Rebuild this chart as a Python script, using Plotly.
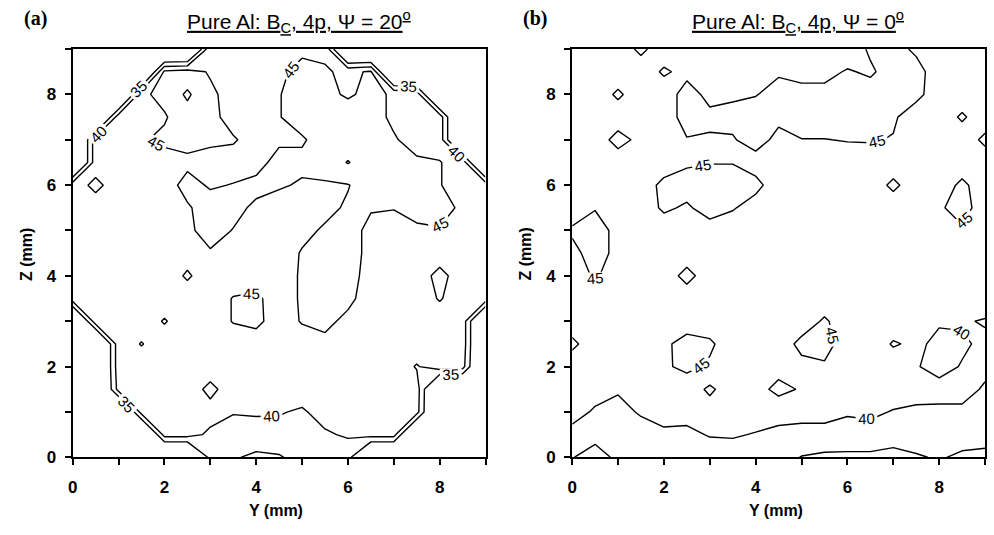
import plotly.graph_objects as go

# ---------------- data ----------------
x_mm = [0, 0.5, 1, 1.5, 2, 2.5, 3, 3.5, 4, 4.5, 5, 5.5, 6, 6.5, 7, 7.5, 8, 8.5, 9]
y_mm = [0, 0.5, 1, 1.5, 2, 2.5, 3, 3.5, 4, 4.5, 5, 5.5, 6, 6.5, 7, 7.5, 8, 8.5, 9]

contour_levels = [35, 50, 5]   # start, end, step

tick_vals = [0, 2, 4, 6, 8]
tick_text = ['0', '2', '4', '6', '8']

# panel (a): rows listed from Z = 9 (top) down to Z = 0; 20 = outside specimen
z_a_rows = [
    [20, 20, 20, 20, 20, 20, 44, 43, 43, 43, 44, 44, 20, 20, 20, 20, 20, 20, 20],
    [20, 20, 20, 20, 46, 47, 44.5, 43, 43, 44, 46.5, 45.5, 44, 45.5, 20, 20, 20, 20, 20],
    [20, 20, 20, 44, 46.5, 50.8, 46, 43, 43, 44.8, 47, 46, 44.5, 46, 44.5, 43, 20, 20, 20],
    [20, 20, 43, 43, 44.5, 48, 46.5, 43, 43, 44.8, 47, 47, 47, 47, 44, 43, 43, 20, 20],
    [20, 43, 43, 44.5, 46, 46.5, 46, 45.5, 43, 44, 44.5, 47, 47, 46.5, 45.5, 43, 43, 20, 20],
    [20, 43, 43, 43, 43, 44, 43, 43, 43, 47, 46, 47, 50.3, 47, 46.5, 45.8, 45.2, 43, 20],
    [43, 46, 43, 43, 43, 46.5, 44.5, 45.2, 46.5, 45.5, 44.5, 44.5, 44.8, 47, 47, 46.5, 45.2, 43, 43],
    [43, 43, 43, 43, 43, 44.5, 47, 46.5, 44, 43, 43, 44, 45.5, 45.3, 45.2, 46, 46, 44.5, 43],
    [43, 43, 43, 43, 43, 44, 47, 44.8, 43, 43, 44, 45.5, 46.5, 44, 43, 44.5, 44.8, 43, 43],
    [43, 43, 43, 43, 43, 43.5, 44.5, 43, 43, 43, 45.3, 46, 46.5, 44, 43, 43, 43, 43, 43],
    [43, 43, 43, 43, 43, 45.5, 43, 43, 43, 43, 45.5, 47, 47, 43, 43, 43, 46.2, 43, 43],
    [43, 43, 43, 43, 43, 43, 43, 45.2, 45.8, 43, 45.5, 47, 46, 43, 43, 43, 45.3, 43, 43],
    [20, 43, 43, 43, 45.3, 43, 43, 45.2, 46, 43, 45.3, 46, 44, 43, 43, 43, 43, 43, 20],
    [20, 20, 43, 45.2, 43, 43, 43, 43, 43, 43, 43, 44, 43, 43, 43, 43, 43, 43, 20],
    [20, 20, 43, 43, 43, 43, 43, 43, 43, 43, 43, 43, 43, 43, 43, 39.6, 43, 42, 20],
    [20, 20, 42, 43, 43, 43, 38.5, 43, 43, 43, 42, 43, 43, 43, 43, 42.5, 20, 20, 20],
    [20, 20, 20, 42, 42.5, 43, 42, 40.2, 40.5, 40.3, 39.5, 41.5, 42.5, 43, 43, 42, 20, 20, 20],
    [20, 20, 20, 20, 42, 42, 39, 38.5, 38, 38.5, 38.5, 39.5, 40.5, 42, 42, 20, 20, 20, 20],
    [20, 20, 20, 20, 20, 20, 37, 35.5, 34, 34.5, 37, 37, 37.5, 20, 20, 20, 20, 20, 20],
]

# panel (b): rows listed from Z = 9 (top) down to Z = 0
z_b_rows = [
    [43, 43, 43, 45.8, 43, 43, 43, 43, 43, 43, 43, 43, 43, 45.5, 46, 44.5, 43, 43, 43],
    [43, 43, 43, 43, 45.5, 44, 43, 43, 43, 44.5, 44, 44, 45.3, 44.5, 46.5, 46, 43.5, 43, 43],
    [43, 43, 45.6, 43, 43, 46.5, 44, 44.5, 44.8, 46.5, 46, 46, 46, 46.5, 46, 46, 43, 43, 43],
    [43, 43, 43, 43, 43, 46.5, 45.8, 46, 47, 45.8, 47, 47, 47, 47, 45.5, 43, 43, 45.5, 43],
    [43, 43, 46.3, 44, 43, 44.8, 44.6, 44.7, 46.5, 44, 44.9, 44.9, 45.2, 45.3, 44.8, 43, 43, 43, 45.8],
    [43, 43, 43, 43, 43, 44.5, 44.8, 44.8, 43.5, 43, 43, 43, 43, 43, 43, 43, 43, 43, 43],
    [43, 43, 43, 43, 46, 46.5, 47.5, 47.5, 46, 43, 43, 43, 43, 43, 45.8, 43, 43, 45.8, 43],
    [43, 44.8, 43, 43, 45.6, 44.5, 46.5, 45.3, 43.5, 43, 43, 43, 43, 43, 43, 43, 44.5, 46.5, 43],
    [45.5, 46.5, 44, 43, 43, 43, 43.5, 43, 43, 43, 43, 43, 43, 43, 43, 43, 43, 44.5, 43],
    [44, 46.5, 44, 43, 43, 43, 43, 43, 43, 43, 43, 43, 43, 43, 43, 43, 43, 43, 43],
    [43, 45.5, 43, 43, 43, 46.2, 43, 43, 43, 43, 43, 43, 43, 43, 43, 43, 43, 43, 43],
    [43, 43, 43, 43, 43, 43, 43, 43, 43, 43, 43, 43, 43, 43, 43, 43, 43, 43, 43],
    [43, 43, 43, 43, 43, 43, 43, 43, 43, 43, 43, 45.5, 43, 43, 43, 43, 40.5, 40.5, 39.6],
    [45.8, 43, 43, 43, 44.2, 46.5, 45.6, 43, 43, 43, 46, 46.5, 43, 43, 39.5, 41, 38.8, 39.3, 41],
    [43, 43, 43, 43, 44.5, 45.8, 44.5, 43, 43, 43, 44, 44.5, 43, 43, 43, 40.3, 38.5, 40.3, 41],
    [43, 43, 40.5, 43, 43, 43, 39, 43, 43, 46.5, 44.5, 43, 43, 43, 42.5, 41.5, 41.5, 41.5, 39.5],
    [43, 39, 38.5, 40.5, 42, 41.5, 42.5, 42.5, 42.5, 41.5, 41.5, 41.5, 40.5, 41, 39.7, 39.3, 39.2, 39.2, 38],
    [37.5, 36.5, 37, 38, 39, 39, 40.3, 40.5, 39.7, 39, 38.5, 38.5, 38, 38, 37, 37.5, 37.5, 37.5, 36.5],
    [35.2, 33, 36, 37, 37, 37, 37.5, 37.5, 37.5, 37, 34.8, 34, 34, 34, 33.5, 34.5, 35.5, 34, 34],
]

panel_titles = ['<u>Pure Al: B<sub>C</sub>, 4p, \u03a8 = 20<sup>o</sup></u>',
                '<u>Pure Al: B<sub>C</sub>, 4p, \u03a8 = 0<sup>o</sup></u>']
panel_tags = ['(a)', '(b)']
x_title = 'Y (mm)'
y_title = 'Z (mm)'

# ---------------- figure ----------------
W, H = 994, 535
SANS = 'Liberation Sans, Arial, Helvetica, sans-serif'
SERIF = 'Liberation Serif, Times New Roman, serif'


def fx(p):
    return p / W


def fy(p):
    return 1 - p / H


z_a = z_a_rows[::-1]
z_b = z_b_rows[::-1]

fig = go.Figure()
for z, xa, ya in [(z_a, 'x', 'y'), (z_b, 'x2', 'y2')]:
    fig.add_trace(go.Contour(
        x=x_mm, y=y_mm, z=z, xaxis=xa, yaxis=ya,
        contours=dict(start=contour_levels[0], end=contour_levels[1], size=contour_levels[2],
                      coloring='none', showlabels=True,
                      labelfont=dict(family=SANS, size=15, color='black')),
        line=dict(color='black', width=1.4, smoothing=0),
        showscale=False, hoverinfo='skip'))

axis_common = dict(range=[0, 9], tickmode='array', tickvals=tick_vals, ticktext=tick_text,
                   ticks='outside', ticklen=6, tickwidth=1.5, tickcolor='black',
                   minor=dict(dtick=1, tick0=0, ticks='outside', ticklen=6, tickwidth=1.5,
                              tickcolor='black', showgrid=False),
                   showline=True, linecolor='black', linewidth=2, mirror=True,
                   showgrid=False, zeroline=False, fixedrange=True,
                   tickfont=dict(family=SANS, size=17, color='black', weight='bold'))

y_dom = [fy(466), fy(50)]
fig.update_layout(
    width=W, height=H,
    margin=dict(l=0, r=0, t=0, b=0),
    paper_bgcolor='white', plot_bgcolor='white',
    showlegend=False,
    xaxis=dict(domain=[fx(68), fx(483)], anchor='y', ticklabelstandoff=7, **axis_common),
    yaxis=dict(domain=y_dom, anchor='x', ticklabelstandoff=5, **axis_common),
    xaxis2=dict(domain=[fx(570), fx(985)], anchor='y2', ticklabelstandoff=7, **axis_common),
    yaxis2=dict(domain=y_dom, anchor='x2', ticklabelstandoff=5, **axis_common),
)

ann = []
for i, (plot_l, plot_r) in enumerate([(68, 483), (570, 985)]):
    cx = (plot_l + plot_r) / 2
    ann.append(dict(text=panel_titles[i], x=fx(cx + 20), y=fy(22), xref='paper', yref='paper',
                    showarrow=False, xanchor='center', yanchor='middle',
                    font=dict(family=SANS, size=21, color='black')))
    ann.append(dict(text='<b>%s</b>' % panel_tags[i], x=fx(plot_l - 37), y=fy(19), xref='paper', yref='paper',
                    showarrow=False, xanchor='center', yanchor='middle',
                    font=dict(family=SERIF, size=20, color='black')))
    ann.append(dict(text='<b>%s</b>' % x_title, x=fx(cx - 3), y=fy(520), xref='paper', yref='paper',
                    showarrow=False, xanchor='center', yanchor='middle',
                    font=dict(family=SANS, size=16, color='black')))
    ann.append(dict(text='<b>%s</b>' % y_title, x=fx(plot_l - 47), y=fy(259), xref='paper', yref='paper',
                    showarrow=False, xanchor='center', yanchor='middle', textangle=-90,
                    font=dict(family=SANS, size=16, color='black')))
fig.update_layout(annotations=ann)

fig.write_html('out.html')
